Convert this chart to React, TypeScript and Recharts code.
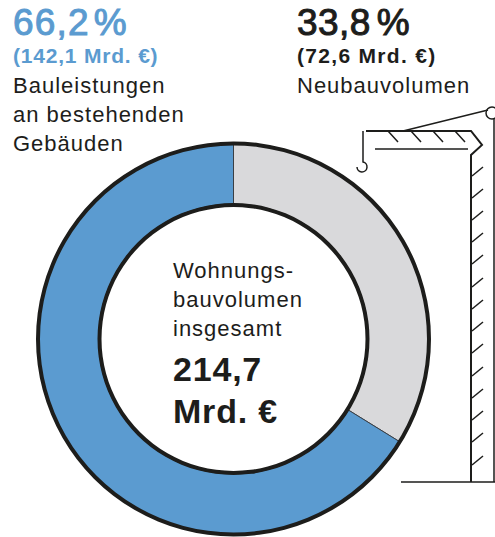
import React from 'react';
import { Pie, PieChart, Cell } from 'recharts';

const segments = ['Neubauvolumen', 'Bauleistungen an bestehenden Gebäuden'];
const values = [72.6, 142.1];
const colors = ['#d9d9db', '#5b9bd0'];
const total = [214.7];

const INK = '#1d1d1b';
const BLUE = '#5b9bd0';
const FONT = '"Liberation Sans", Arial, sans-serif';

const chartData = segments.map((name, i) => ({ name, value: values[i] }));
const totalData = total.map((value) => ({ name: 'insgesamt', value }));

const Label = ({ x, y, size, weight = 400, fill = INK, spacing = 0, heavy = 0, children }: any) => (
  <text
    x={x}
    y={y}
    fontSize={size}
    fontWeight={weight}
    fill={fill}
    stroke={heavy ? fill : 'none'}
    strokeWidth={heavy}
    letterSpacing={spacing}
    fontFamily={FONT}>
    {children}
  </text>
);

const hatchY = [167, 189, 211, 233, 255, 278, 300, 322, 344, 367, 389, 411, 433, 456];

// crane drawing on the right hand side
const Crane = () => (
  <g fill='none' stroke={INK} strokeWidth={1.5}>
    <path d='M401 482 H495' />
    <path d='M471 482 V155 L482 145 L471 131 H366' strokeWidth={2} />
    <path d='M375 149 H468' />
    <path d='M363 131 V162 A5 5 0 1 1 357 167' />
    <path d='M403 131 L488 110' />
    <circle cx={492} cy={113} r={6} />
    <path d='M494 119 V482' />
    <path d='M388 131 L398 142 M411 131 L421 142 M433 131 L443 142 M455 131 L465 142' />
    {hatchY.map((y) => (
      <path key={y} d={`M472 ${y + 9} L483 ${y}`} />
    ))}
  </g>
);

export default function App() {
  return (
    <div style={{ position: 'absolute', left: 0, top: 0 }}>
      <PieChart width={495} height={537} margin={{ top: 0, right: 0, bottom: 0, left: 0 }}>
        <Crane />
        <Pie
          data={chartData}
          dataKey='value'
          cx={233.5}
          cy={339}
          innerRadius={135}
          outerRadius={195}
          startAngle={90}
          endAngle={-270}
          stroke='#3a3f45'
          strokeWidth={1}
          isAnimationActive={false}>
          {chartData.map((d, i) => (
            <Cell key={d.name} fill={colors[i]} />
          ))}
        </Pie>
        {/* dark outlines of the ring */}
        <Pie
          data={totalData}
          dataKey='value'
          cx={233.5}
          cy={339}
          innerRadius={193.5}
          outerRadius={197.5}
          startAngle={90}
          endAngle={-270}
          fill={INK}
          stroke='none'
          isAnimationActive={false}
        />
        <Pie
          data={totalData}
          dataKey='value'
          cx={233.5}
          cy={339}
          innerRadius={132}
          outerRadius={136}
          startAngle={90}
          endAngle={-270}
          fill={INK}
          stroke='none'
          isAnimationActive={false}
        />
        <Label x={13} y={35} size={37} fill={BLUE} spacing={1.2} heavy={1}>
          66,2<tspan dx={4}>%</tspan>
        </Label>
        <Label x={13} y={63} size={21} weight={700} fill={BLUE} spacing={0.8}>(142,1 Mrd. €)</Label>
        <Label x={13} y={93} size={22} spacing={1}>Bauleistungen</Label>
        <Label x={13} y={122} size={22} spacing={1}>an bestehenden</Label>
        <Label x={13} y={151} size={22} spacing={1}>Gebäuden</Label>
        <Label x={297} y={35} size={37} spacing={0.4} heavy={1}>
          33,8<tspan dx={6}>%</tspan>
        </Label>
        <Label x={297} y={63} size={21} weight={700} spacing={1.3}>(72,6 Mrd. €)</Label>
        <Label x={297} y={93} size={22} spacing={1}>Neubauvolumen</Label>
        <Label x={173} y={278} size={22} spacing={1}>Wohnungs-</Label>
        <Label x={173} y={307} size={22} spacing={1}>bauvolumen</Label>
        <Label x={173} y={336} size={22} spacing={1}>insgesamt</Label>
        <Label x={173} y={381} size={34} weight={700} spacing={0.8}>214,7</Label>
        <Label x={173} y={423} size={34} weight={700} spacing={0.8}>Mrd. €</Label>
      </PieChart>
    </div>
  );
}
